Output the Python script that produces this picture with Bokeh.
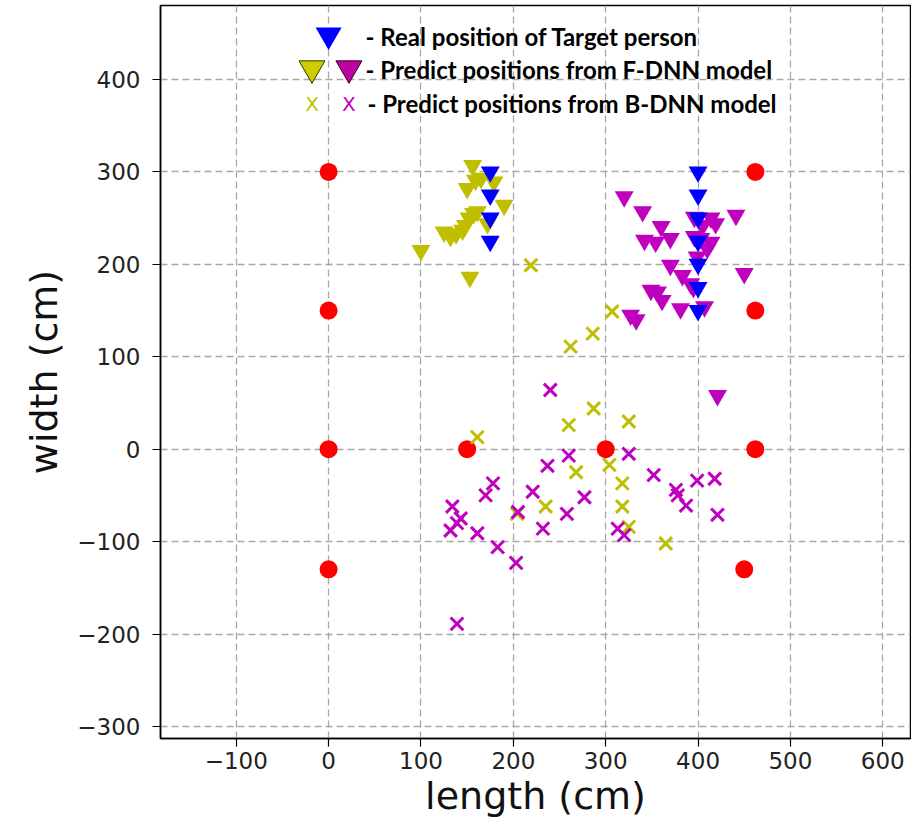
from bokeh.plotting import figure
from bokeh.models import Range1d, Label, FixedTicker, CustomJSTickFormatter
from bokeh.embed import file_html
from bokeh.resources import INLINE

# Anchor (reference) points
anchor_x = [0, 0, 0, 0, 150, 300, 462, 462, 462, 450]
anchor_y = [300, 150, 0, -130, 0, 0, 0, 150, 300, -130]

# Real positions of target person
real_x = [175, 175, 175, 175, 400, 400, 400, 400, 400, 400, 400]
real_y = [300, 275, 250, 225, 300, 275, 250, 225, 200, 175, 150]

# F-DNN predictions (yellow)
fy_x = [100, 153, 125, 132, 138, 145, 148, 152, 157, 161, 172, 190, 179, 150, 156, 159, 165]
fy_y = [215, 186, 235, 230, 233, 237, 242, 250, 255, 257, 244, 264, 289, 282, 307, 291, 293]

# F-DNN predictions (magenta)
fm_x = [320, 340, 360, 342, 354, 370, 396, 414, 419, 405, 403, 414, 396, 410, 399, 370,
        383, 392, 441, 450, 349, 356, 361, 381, 407, 327, 333, 395, 421]
fm_y = [273, 257, 241, 226, 224, 228, 251, 250, 244, 242, 228, 224, 230, 217, 208, 199,
        188, 179, 253, 190, 172, 170, 161, 152, 154, 145, 140, 175, 58]

# B-DNN predictions (yellow)
by_x = [219, 307, 286, 262, 287, 260, 325, 161, 304, 268, 318, 235, 204, 318, 325, 365]
by_y = [199, 149, 125, 111, 44, 26, 30, 13, -17, -25, -37, -62, -70, -62, -84, -102]

# B-DNN predictions (magenta)
bm_x = [240, 260, 325, 237, 352, 178, 170, 221, 277, 134, 143, 139, 132, 161, 205, 258,
        232, 313, 320, 183, 203, 376, 378, 387, 399, 418, 421, 139]
bm_y = [64, -7, -5, -18, -28, -37, -50, -46, -52, -62, -75, -80, -88, -91, -68, -70,
        -86, -86, -93, -106, -123, -44, -50, -61, -34, -32, -71, -189]

x_ticks = [-100, 0, 100, 200, 300, 400, 500, 600]
y_ticks = [-300, -200, -100, 0, 100, 200, 300, 400]

legend_texts = ["- Real position of Target person",
                "- Predict positions from F-DNN model",
                "- Predict positions from B-DNN model"]

YEL = "#bfbf00"
MAG = "#bf00bf"

p = figure(width=911, height=834, output_backend="svg", toolbar_location=None,
           x_range=Range1d(-182, 630), y_range=Range1d(-313, 480),
           min_border_left=160, min_border_right=1, min_border_top=5, min_border_bottom=96)
p.background_fill_color = "white"
p.border_fill_color = "white"
p.outline_line_color = "black"
p.outline_line_width = 1.5

for ax in (p.xaxis[0], p.yaxis[0]):
    ax.major_label_text_font = "DejaVu Sans"
    ax.major_label_text_font_size = "23px"
    ax.major_label_text_color = "#222222"
    ax.axis_line_color = "black"
    ax.axis_line_width = 1.5
    ax.major_tick_line_color = "black"
    ax.major_tick_line_width = 1.2
    ax.major_tick_out = 8
    ax.major_tick_in = 0
    ax.minor_tick_line_color = None
    ax.axis_label_text_font = "DejaVu Sans"
    ax.axis_label_text_font_style = "normal"
    ax.axis_label_text_font_size = "38px"
    ax.axis_label_text_color = "#111111"
    ax.formatter = CustomJSTickFormatter(code="return tick < 0 ? '\u2212' + Math.abs(tick) : '' + tick;")

p.xaxis.ticker = FixedTicker(ticks=x_ticks)
p.yaxis.ticker = FixedTicker(ticks=y_ticks)
p.xaxis.axis_label = "length (cm)"
p.yaxis.axis_label = "width (cm)"
p.xaxis.major_label_standoff = 5
p.yaxis.major_label_standoff = 12
p.xaxis.axis_label_standoff = 2
p.yaxis.axis_label_standoff = 8

for g in (p.xgrid[0], p.ygrid[0]):
    g.grid_line_color = "#a8a8a8"
    g.grid_line_dash = "7 4"
    g.grid_line_width = 1.3

p.scatter(anchor_x, anchor_y, marker="circle", size=18, color="#ff0000", line_color=None)
p.scatter(fy_x, fy_y, marker="inverted_triangle", size=19, color=YEL, line_color=None)
p.scatter(fm_x, fm_y, marker="inverted_triangle", size=19, color=MAG, line_color=None)
p.scatter(real_x, real_y, marker="inverted_triangle", size=19, color="#0000ff", line_color=None)
p.scatter(by_x, by_y, marker="x", size=18, color=YEL, line_width=3)
p.scatter(bm_x, bm_y, marker="x", size=18, color=MAG, line_width=3)

# Legend drawn inside the plot
p.scatter([0], [448], marker="inverted_triangle", size=26, color="#0000ff", line_color=None)
p.scatter([-18], [412], marker="inverted_triangle", size=26, fill_color="#cccc00",
          line_color="#333300", line_width=1)
p.scatter([22], [412], marker="inverted_triangle", size=26, fill_color="#c000a0",
          line_color="#330022", line_width=1)
p.add_layout(Label(x=-18, y=373, text="X", text_color=YEL, text_font="DejaVu Sans",
                   text_font_size="20px", text_align="center", text_baseline="middle"))
p.add_layout(Label(x=22, y=373, text="X", text_color=MAG, text_font="DejaVu Sans",
                   text_font_size="20px", text_align="center", text_baseline="middle"))
for t, yy, xx in zip(legend_texts, [447, 411, 374], [40, 40, 42]):
    p.add_layout(Label(x=xx, y=yy, text=t, text_color="black", text_font="Lato",
                       text_font_style="bold", text_font_size="24px",
                       text_baseline="middle"))

open("out.html", "w").write(file_html(p, INLINE))
